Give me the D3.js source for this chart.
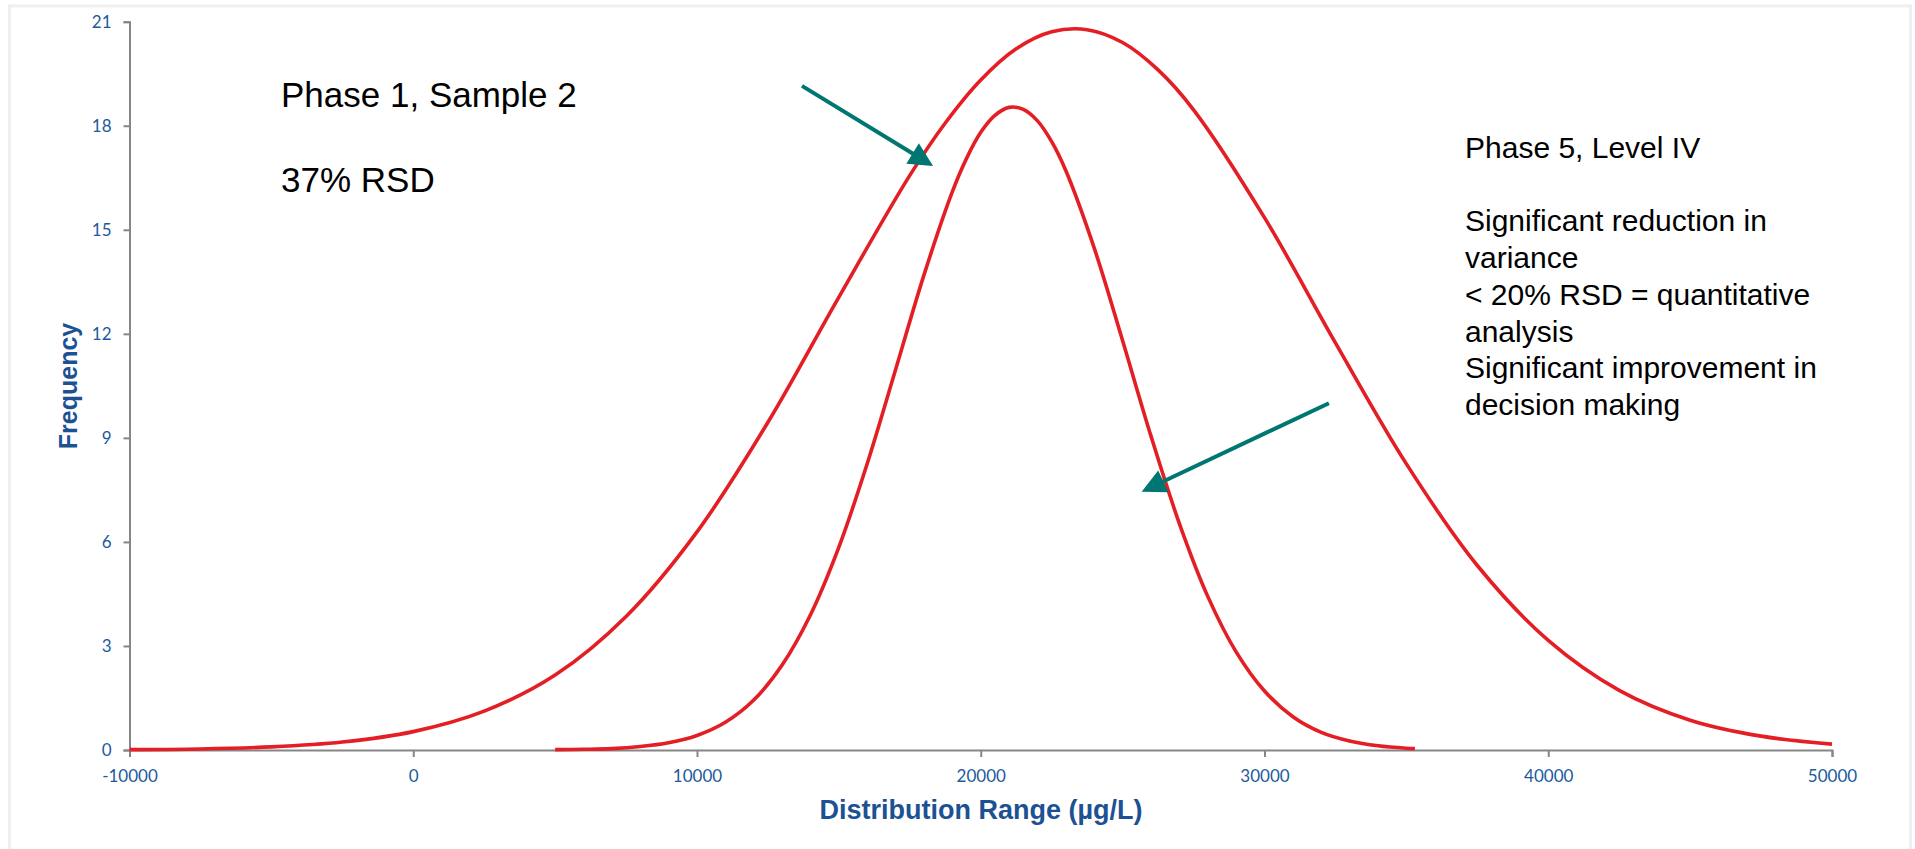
<!DOCTYPE html>
<html>
<head>
<meta charset="utf-8">
<script src="https://cdn.jsdelivr.net/npm/d3@7"></script>
<style>
  html, body { margin: 0; padding: 0; background: #ffffff; }
  svg { display: block; }
</style>
</head>
<body>
<div class="chart"></div>
<script>
/* ======== Data ======== */
var xTicks = [-10000, 0, 10000, 20000, 30000, 40000, 50000];
var yTicks = [0, 3, 6, 9, 12, 15, 18, 21];

// Phase 1, Sample 2 (wide curve)
var wideX = [-10000, -7500, -5000, -2500, 0, 2500, 5000, 7500, 10000, 12500, 15000, 17500, 18750,
             20000, 21250, 22500, 23750, 25000, 26250, 27500, 30000, 32500, 35000, 37500, 40000,
             42500, 45000, 47500, 50000];
var wideY = [0.01, 0.03, 0.09, 0.23, 0.53, 1.12, 2.16, 3.85, 6.29, 9.45, 13.06, 16.57, 18.08,
             19.32, 20.22, 20.71, 20.77, 20.40, 19.61, 18.46, 15.35, 11.74, 8.25, 5.32, 3.16,
             1.72, 0.86, 0.40, 0.17];

// Phase 5, Level IV (narrow curve)
var narrowX = [5000, 6000, 7000, 8000, 9000, 10000, 11000, 12000, 13000, 14000, 15000, 16000,
               17000, 18000, 19000, 19500, 20000, 20500, 21000, 21500, 22000, 22500, 23000, 24000,
               25000, 26000, 27000, 28000, 29000, 30000, 31000, 32000, 33000, 34000, 35000, 35300];
var narrowY = [0.01, 0.02, 0.04, 0.10, 0.21, 0.42, 0.80, 1.44, 2.45, 3.90, 5.85, 8.26,
               10.97, 13.70, 16.10, 17.06, 17.81, 18.30, 18.53, 18.47, 18.14, 17.54, 16.70, 14.47,
               11.80, 9.05, 6.53, 4.43, 2.83, 1.70, 0.96, 0.51, 0.26, 0.12, 0.05, 0.04];

// arrows, in data units: tail -> tip
var arrowFromX = [13700, 32270];
var arrowFromY = [19.15, 10.0];
var arrowToX = [18320, 25670];
var arrowToY = [16.84, 7.45];

var leftNote = ["Phase 1, Sample 2", "", "37% RSD"];
var rightNote = ["Phase 5, Level IV", "", "Significant reduction in", "variance",
                 "< 20% RSD = quantitative", "analysis", "Significant improvement in", "decision making"];
/* =========================================== */

var width = 1915, height = 849;
var axisColor = '#868686';
var tickColor = '#215a9c';
var titleColor = '#1c5193';
var curveColor = '#e31e24';
var arrowColor = '#007672';

var svg = d3.select('.chart')
            .append('svg')
            .attr('width', width)
            .attr('height', height);

// light frame round the chart area
svg.append('rect')
   .attr('x', 9.5)
   .attr('y', 6)
   .attr('width', 1901)
   .attr('height', height + 20)
   .attr('fill', 'none')
   .attr('stroke', '#efefef')
   .attr('stroke-width', 3);

var x = d3.scaleLinear().domain([-10000, 50000]).range([129.5, 1832]);
var y = d3.scaleLinear().domain([0, 21]).range([750, 21.7]);

// axes
var xAxis = svg.append('g')
               .attr('transform', 'translate(0,' + y(0) + ')')
               .call(d3.axisBottom(x).tickValues(xTicks).tickSize(7).tickPadding(13)
                       .tickFormat(function(d){ return String(d); }));
var yAxis = svg.append('g')
               .attr('transform', 'translate(' + x(-10000) + ',0)')
               .call(d3.axisLeft(y).tickValues(yTicks).tickSize(6).tickPadding(12));

[xAxis, yAxis].forEach(function(ax){
	ax.select('.domain').attr('stroke', axisColor).attr('stroke-width', 2);
	ax.selectAll('.tick line').attr('stroke', axisColor).attr('stroke-width', 2);
	ax.selectAll('.tick text')
	  .attr('fill', tickColor)
	  .attr('font-size', 17)
	  .attr('font-family', 'Lato, "Open Sans", sans-serif');
});

// axis titles
svg.append('text')
   .attr('x', 981)
   .attr('y', 819)
   .attr('text-anchor', 'middle')
   .attr('font-family', '"Liberation Sans", Arial, sans-serif')
   .attr('font-weight', 'bold')
   .attr('font-size', 27)
   .attr('fill', titleColor)
   .text('Distribution Range (µg/L)');

svg.append('text')
   .attr('transform', 'translate(77,386) rotate(-90)')
   .attr('text-anchor', 'middle')
   .attr('font-family', '"Liberation Sans", Arial, sans-serif')
   .attr('font-weight', 'bold')
   .attr('font-size', 25)
   .attr('fill', titleColor)
   .text('Frequency');

// curves
var line = d3.line()
             .x(function(d){ return x(d[0]); })
             .y(function(d){ return y(d[1]); })
             .curve(d3.curveCatmullRom.alpha(0.5));

var series = [d3.zip(wideX, wideY), d3.zip(narrowX, narrowY)];
svg.selectAll('path.curve')
   .data(series)
   .enter()
   .append('path')
   .attr('class', 'curve')
   .attr('d', line)
   .attr('fill', 'none')
   .attr('stroke', curveColor)
   .attr('stroke-width', 3.6)
   .attr('stroke-linejoin', 'round');

// arrows
var headLen = 24, headWidth = 24;
for(var i = 0; i < arrowFromX.length; i++){
	var x0 = x(arrowFromX[i]), y0 = y(arrowFromY[i]);
	var x1 = x(arrowToX[i]), y1 = y(arrowToY[i]);
	var len = Math.sqrt((x1-x0)*(x1-x0) + (y1-y0)*(y1-y0));
	var ux = (x1-x0)/len, uy = (y1-y0)/len;
	var bx = x1 - ux*headLen, by = y1 - uy*headLen;
	svg.append('line')
	   .attr('x1', x0).attr('y1', y0)
	   .attr('x2', bx + ux*2).attr('y2', by + uy*2)
	   .attr('stroke', arrowColor)
	   .attr('stroke-width', 4);
	var pts = [[x1, y1],
	           [bx - uy*headWidth/2, by + ux*headWidth/2],
	           [bx + uy*headWidth/2, by - ux*headWidth/2]];
	svg.append('polygon')
	   .attr('points', pts.map(function(p){ return p.join(','); }).join(' '))
	   .attr('fill', arrowColor);
}

// text notes
svg.append('g').selectAll('text')
   .data(leftNote)
   .enter()
   .append('text')
   .attr('x', 281)
   .attr('y', function(d, i){ return 107 + i*42.5; })
   .attr('font-family', '"Liberation Sans", Arial, sans-serif')
   .attr('font-size', 35)
   .attr('fill', '#000000')
   .text(function(d){ return d; });

svg.append('g').selectAll('text')
   .data(rightNote)
   .enter()
   .append('text')
   .attr('x', 1465)
   .attr('y', function(d, i){ return 158 + i*36.7; })
   .attr('font-family', '"Liberation Sans", Arial, sans-serif')
   .attr('font-size', 30)
   .attr('fill', '#000000')
   .text(function(d){ return d; });
</script>
</body>
</html>
